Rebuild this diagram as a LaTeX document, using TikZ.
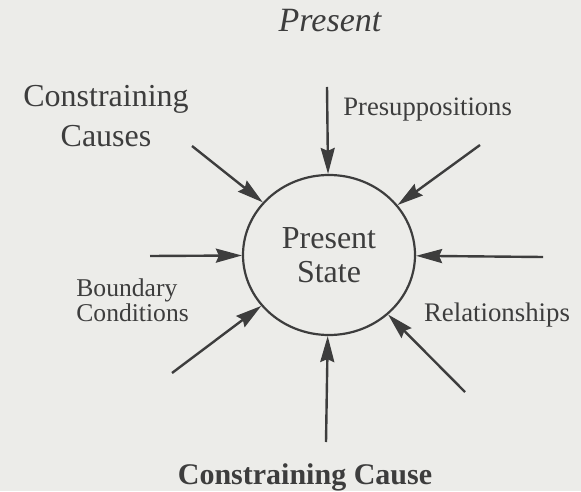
\documentclass[tikz,border=0pt]{standalone}
\usepackage{fontspec}
\setmainfont{Liberation Serif}
\usetikzlibrary{arrows.meta}
\usetikzlibrary{shapes.geometric}
\definecolor{paper}{rgb}{0.925, 0.925, 0.915}
\definecolor{ink}{rgb}{0.24, 0.24, 0.24}

\tikzset{
  arr/.style={draw=ink, line width=1.2pt, -{Stealth[length=13pt, width=7pt, inset=1.5pt]}},
  lbl/.style={text=ink, inner sep=0pt},
}

\begin{document}
\begin{tikzpicture}[x=0.5pt, y=-0.5pt]
    \fill [paper] (0, 0) rectangle (581, 491);

    \node [ellipse, draw=ink, line width=1.1pt, minimum width=86pt, minimum height=80pt,
           inner sep=0pt, text=ink, align=center,
           font=\fontsize{16pt}{17pt}\selectfont] (state) at (329, 255) {Present\\State};

    \coordinate (tsrc) at (327, 87);
    \coordinate (bsrc) at (326, 442);
    \coordinate (lsrc) at (150, 256);
    \coordinate (rsrc) at (543, 257);
    \coordinate (ulsrc) at (192, 146);
    \coordinate (ursrc) at (480, 145);
    \coordinate (llsrc) at (172, 373);
    \coordinate (lrsrc) at (465, 392);

    \foreach \s in {tsrc, bsrc, lsrc, rsrc, ulsrc, ursrc, llsrc, lrsrc}
      \draw [arr] (\s) -- (state);

    \node [lbl, font=\fontsize{17pt}{20pt}\selectfont\itshape] (present) at (330, 21) {Present};
    \node [lbl, align=center, font=\fontsize{16pt}{20pt}\selectfont] (causes) at (106, 116) {Constraining\\Causes};
    \node [lbl, anchor=west, font=\fontsize{13.3pt}{15pt}\selectfont] (presup) at (343, 110) {Presuppositions};
    \node [lbl, anchor=west, align=left, font=\fontsize{12.8pt}{12.5pt}\selectfont] (bound) at (76, 300) {Boundary\\Conditions};
    \node [lbl, font=\fontsize{13.4pt}{15pt}\selectfont] (relat) at (497, 315) {Relationships};
    \node [lbl, font=\fontsize{15pt}{17pt}\selectfont\bfseries] (cause) at (305, 477) {Constraining Cause};
\end{tikzpicture}
\end{document}
